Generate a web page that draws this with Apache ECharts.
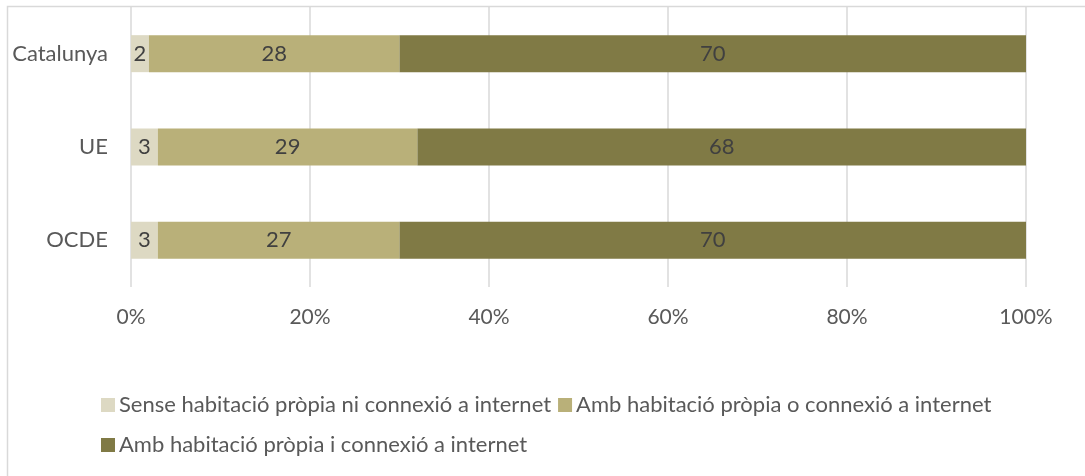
<!DOCTYPE html>
<html><head><meta charset="utf-8">
<script src="https://cdn.jsdelivr.net/npm/echarts@6/dist/echarts.min.js"></script>
<style>html,body{margin:0;padding:0;background:#fff}#c{width:1085px;height:476px}</style>
</head><body><div id="c"></div>
<script>
const categories = ['Catalunya', 'UE', 'OCDE'];
const seriesNames = ['Sense habitació pròpia ni connexió a internet', 'Amb habitació pròpia o connexió a internet', 'Amb habitació pròpia i connexió a internet'];
const sense = [2, 3, 3];
const ambO = [28, 29, 27];
const ambI = [70, 68, 70];
const colors = ['#ddd9c3', '#b9b079', '#807a45'];
const FONT = 'Lato';
const FS = 22;
const chart = echarts.init(document.getElementById('c'));
const mk = (name, data, i) => ({
  name, type: 'bar', stack: 't', data, barWidth: 37,
  itemStyle: {color: colors[i]},
  label: {show: true, position: 'inside', color: '#404040', fontSize: FS, fontFamily: FONT},
  emphasis: {disabled: true}
});
chart.setOption({
  animation: false,
  textStyle: {fontFamily: FONT},
  graphic: [{type: 'rect', shape: {x: 7.5, y: 6.5, width: 1200, height: 600}, style: {fill: 'none', stroke: '#d9d9d9', lineWidth: 1.5}, silent: true}],
  grid: {left: 131, right: 59, top: 7, bottom: 189},
  xAxis: {type: 'value', min: 0, max: 100, interval: 20,
    axisLabel: {formatter: '{value}%', color: '#595959', fontSize: 21, fontFamily: FONT, margin: 20},
    splitLine: {lineStyle: {color: '#d9d9d9', width: 1.5}}, axisLine: {show: false}, axisTick: {show: false}},
  yAxis: {type: 'category', data: categories, inverse: true,
    axisLabel: {color: '#595959', fontSize: FS, fontFamily: FONT, margin: 23},
    axisLine: {show: false}, axisTick: {show: false}},
  legend: [
    {data: seriesNames.slice(0, 2), left: 96, top: 389, itemWidth: 14, itemHeight: 14, itemGap: 7, icon: 'rect',
     textStyle: {color: '#595959', fontSize: FS, fontFamily: FONT, padding: [0, 0, 0, -1]}, selectedMode: false},
    {data: seriesNames.slice(2), left: 96, top: 429, itemWidth: 14, itemHeight: 14, itemGap: 7, icon: 'rect',
     textStyle: {color: '#595959', fontSize: FS, fontFamily: FONT, padding: [0, 0, 0, -1]}, selectedMode: false}
  ],
  series: [mk(seriesNames[0], sense, 0), mk(seriesNames[1], ambO, 1), mk(seriesNames[2], ambI, 2)]
});
</script></body></html>
